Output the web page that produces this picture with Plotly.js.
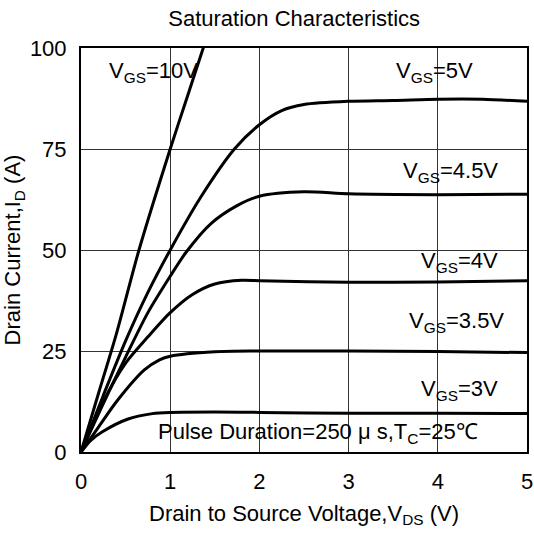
<!DOCTYPE html>
<html>
<head>
<meta charset="utf-8">
<script src="https://cdn.plot.ly/plotly-3.0.1.min.js"></script>
<style>html,body{margin:0;padding:0;background:#fff;}#chart{width:534px;height:534px;}</style>
</head>
<body>
<div id="chart"></div>
<script>
// Drain-source voltage (V) sample points and drain current (A) per gate voltage
const vds10 = [0, 0.2, 0.4, 0.65, 1.0, 1.2, 1.4];
const id10  = [0, 14.8, 29.5, 50, 75, 88.5, 102];

const vds5 = [0, 0.25, 0.5, 0.75, 1.0, 1.34, 1.72, 2.0, 2.25, 2.5, 3.0, 3.5, 4.0, 4.5, 5.0];
const id5  = [0, 14, 27.5, 39.5, 50, 63, 75, 81, 84.5, 86, 86.8, 87, 87.3, 87.3, 86.8];

const vds45 = [0, 0.25, 0.5, 0.75, 1.0, 1.18, 1.46, 1.75, 2.0, 2.5, 3.0, 4.0, 5.0];
const id45  = [0, 12, 23.5, 34.5, 43.5, 49.5, 56.6, 61, 63.3, 64.4, 63.9, 63.7, 63.8];

const vds4 = [0, 0.25, 0.5, 0.75, 1.0, 1.25, 1.5, 1.8, 2.0, 3.0, 4.0, 5.0];
const id4  = [0, 12.5, 22, 28.5, 34.5, 39, 41.6, 42.5, 42.4, 42.0, 42.1, 42.4];

const vds35 = [0, 0.2, 0.41, 0.71, 0.88, 1.0, 1.5, 2.0, 3.0, 4.0, 5.0];
const id35  = [0, 6.3, 12.8, 20.3, 22.8, 23.7, 24.8, 25, 25, 24.9, 24.6];

const vds3 = [0, 0.11, 0.24, 0.52, 0.8, 1.0, 1.5, 2.0, 3.0, 4.0, 5.0];
const id3  = [0, 2.9, 5, 8.1, 9.5, 9.8, 9.9, 9.8, 9.6, 9.6, 9.5];

const xTicks = [0, 1, 2, 3, 4, 5];
const yTicks = [0, 25, 50, 75, 100];

const labelText = ["V<sub>GS</sub>=10V", "V<sub>GS</sub>=5V", "V<sub>GS</sub>=4.5V",
                   "V<sub>GS</sub>=4V", "V<sub>GS</sub>=3.5V", "V<sub>GS</sub>=3V",
                   "Pulse Duration=250 μ s,T<sub>C</sub>=25℃"];
const labelX = [1.33, 4.42, 4.7, 4.7, 4.76, 4.7, 4.47];
const labelY = [94, 94, 69.4, 47.1, 32.3, 15.3, 4.7];

const series = [[vds10, id10], [vds5, id5], [vds45, id45], [vds4, id4], [vds35, id35], [vds3, id3]];

const traces = series.map(s => ({
  x: s[0], y: s[1], type: 'scatter', mode: 'lines',
  line: {color: '#000', width: 3, shape: 'spline', smoothing: 0.8},
  hoverinfo: 'skip', showlegend: false
}));

const fnt = {family: 'Arial, "Liberation Sans", sans-serif', color: '#000'};

const annotations = labelText.map((t, i) => ({
  x: labelX[i], y: labelY[i], xref: 'x', yref: 'y', text: t, showarrow: false,
  xanchor: 'right', yanchor: 'middle',
  font: Object.assign({}, fnt, {size: 22})
}));

const layout = {
  width: 534, height: 534,
  margin: {l: 81, r: 7, t: 48, b: 82},
  paper_bgcolor: '#fff', plot_bgcolor: '#fff',
  showlegend: false,
  title: {text: 'Saturation Characteristics', xref: 'paper', x: 0.478, xanchor: 'center',
          yref: 'container', y: 0.966, yanchor: 'middle',
          font: Object.assign({}, fnt, {size: 22})},
  xaxis: {
    range: [0, 5], tickvals: xTicks, ticktext: xTicks.map(String),
    showgrid: true, gridcolor: '#333', gridwidth: 1,
    showline: true, linecolor: '#000', linewidth: 2, mirror: true,
    zeroline: false, ticks: '', ticklabelstandoff: 9,
    tickfont: Object.assign({}, fnt, {size: 22}),
    title: {text: 'Drain to Source Voltage,V<sub>DS</sub> (V)', standoff: 12,
            font: Object.assign({}, fnt, {size: 22})}
  },
  yaxis: {
    range: [0, 100], tickvals: yTicks, ticktext: yTicks.map(String),
    showgrid: true, gridcolor: '#333', gridwidth: 1,
    showline: true, linecolor: '#000', linewidth: 2, mirror: true,
    zeroline: false, ticks: '', ticklabelstandoff: 8,
    tickfont: Object.assign({}, fnt, {size: 22}),
    title: {text: 'Drain Current,I<sub>D</sub> (A)', standoff: 4,
            font: Object.assign({}, fnt, {size: 22})}
  },
  annotations: annotations
};

Plotly.newPlot('chart', traces, layout, {staticPlot: true, displayModeBar: false});
</script>
</body>
</html>
